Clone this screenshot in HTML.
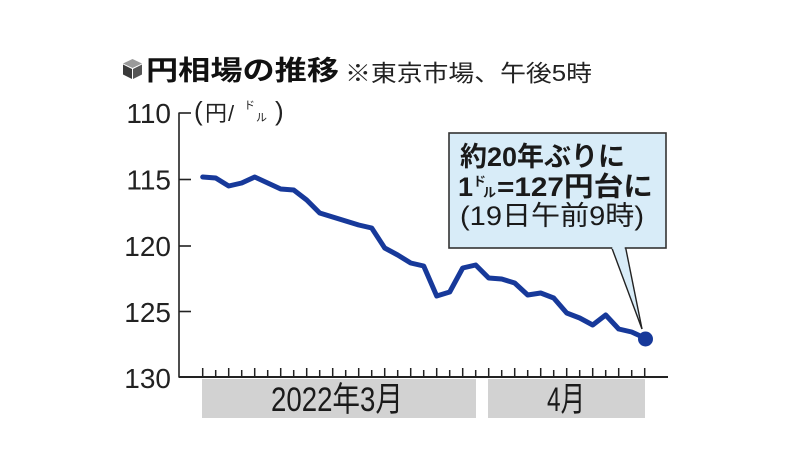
<!DOCTYPE html>
<html>
<head>
<meta charset="utf-8">
<style>
  html,body{margin:0;padding:0;background:#fff;}
  svg{display:block;}
  .jp{font-family:"Liberation Sans","Noto Sans CJK JP",sans-serif;}
</style>
</head>
<body>
<svg width="800" height="450" viewBox="0 0 800 450" xmlns="http://www.w3.org/2000/svg">
  <rect x="0" y="0" width="800" height="450" fill="#ffffff"/>

  <!-- title icon (cube) -->
  <g transform="translate(123,59)">
    <polygon points="9.5,0 19,4.5 9.5,9 0,4.5" fill="#9a9a9a"/>
    <polygon points="0,5.5 9,10 9,20 0,15.5" fill="#3a3a3a"/>
    <polygon points="10,10 19,5.5 19,15.5 10,20" fill="#555555"/>
  </g>
  <!-- title -->
  <text x="146" y="80" class="jp" font-size="27" font-weight="bold" fill="#111" textLength="193" lengthAdjust="spacingAndGlyphs">円相場の推移</text>
  <text x="345" y="81" class="jp" font-size="23" fill="#222" textLength="247" lengthAdjust="spacingAndGlyphs">※東京市場、午後5時</text>

  <!-- y-axis labels -->
  <g class="jp" font-size="28" fill="#222" text-anchor="end">
    <text x="171" y="123">110</text>
    <text x="171" y="189.5">115</text>
    <text x="171" y="256">120</text>
    <text x="171" y="322">125</text>
    <text x="171" y="388">130</text>
  </g>
  <!-- unit label (円/ドル) -->
  <g class="jp" fill="#222">
    <text x="194" y="120" font-size="26">(</text>
    <text x="205" y="121" font-size="22">円</text>
    <text x="228" y="121" font-size="22">/</text>
    <text x="244" y="109" font-size="11">ド</text>
    <text x="256" y="121" font-size="11">ル</text>
    <text x="275" y="120" font-size="26">)</text>
  </g>

  <!-- axes -->
  <line x1="179" y1="112.5" x2="179" y2="377" stroke="#222" stroke-width="1.6"/>
  <line x1="178.5" y1="377" x2="668" y2="377" stroke="#222" stroke-width="2"/>
  <g stroke="#222" stroke-width="1.6">
    <line x1="179" y1="113" x2="191" y2="113"/>
    <line x1="179" y1="179.5" x2="191" y2="179.5"/>
    <line x1="179" y1="246" x2="191" y2="246"/>
    <line x1="179" y1="311.5" x2="191" y2="311.5"/>
  </g>
  <!-- x ticks -->
  <g stroke="#222" stroke-width="1.5">
    <line x1="202.7" y1="368" x2="202.7" y2="377"/><line x1="215.7" y1="370" x2="215.7" y2="377"/>
    <line x1="228.7" y1="368" x2="228.7" y2="377"/><line x1="241.7" y1="370" x2="241.7" y2="377"/>
    <line x1="254.7" y1="368" x2="254.7" y2="377"/><line x1="267.7" y1="370" x2="267.7" y2="377"/>
    <line x1="280.7" y1="368" x2="280.7" y2="377"/><line x1="293.7" y1="370" x2="293.7" y2="377"/>
    <line x1="306.7" y1="368" x2="306.7" y2="377"/><line x1="319.7" y1="370" x2="319.7" y2="377"/>
    <line x1="332.7" y1="368" x2="332.7" y2="377"/><line x1="345.7" y1="370" x2="345.7" y2="377"/>
    <line x1="358.7" y1="368" x2="358.7" y2="377"/><line x1="371.7" y1="370" x2="371.7" y2="377"/>
    <line x1="384.7" y1="368" x2="384.7" y2="377"/><line x1="397.7" y1="370" x2="397.7" y2="377"/>
    <line x1="410.7" y1="368" x2="410.7" y2="377"/><line x1="423.7" y1="370" x2="423.7" y2="377"/>
    <line x1="436.7" y1="368" x2="436.7" y2="377"/><line x1="449.7" y1="370" x2="449.7" y2="377"/>
    <line x1="462.7" y1="368" x2="462.7" y2="377"/><line x1="475.7" y1="370" x2="475.7" y2="377"/>
    <line x1="488.7" y1="368" x2="488.7" y2="377"/><line x1="501.7" y1="370" x2="501.7" y2="377"/>
    <line x1="514.7" y1="368" x2="514.7" y2="377"/><line x1="527.7" y1="370" x2="527.7" y2="377"/>
    <line x1="540.7" y1="368" x2="540.7" y2="377"/><line x1="553.7" y1="370" x2="553.7" y2="377"/>
    <line x1="566.7" y1="368" x2="566.7" y2="377"/><line x1="579.7" y1="370" x2="579.7" y2="377"/>
    <line x1="592.7" y1="368" x2="592.7" y2="377"/><line x1="605.7" y1="370" x2="605.7" y2="377"/>
    <line x1="618.7" y1="368" x2="618.7" y2="377"/><line x1="631.7" y1="370" x2="631.7" y2="377"/>
    <line x1="644.7" y1="368" x2="644.7" y2="377"/>
  </g>

  <!-- month bars -->
  <rect x="202" y="379" width="274" height="39" fill="#d2d2d2"/>
  <rect x="488" y="379" width="157" height="39" fill="#d2d2d2"/>
  <text x="271" y="411" class="jp" font-size="34" fill="#1a1a1a" textLength="132" lengthAdjust="spacingAndGlyphs">2022年3月</text>
  <text x="547" y="411" class="jp" font-size="34" fill="#1a1a1a" textLength="38" lengthAdjust="spacingAndGlyphs">4月</text>

  <!-- callout tail -->
  <polygon points="611.5,246 625.5,246 642,329" fill="#d8ecf8"/>
  <line x1="611.5" y1="247" x2="642" y2="329" stroke="#222" stroke-width="1.4"/>
  <line x1="625.5" y1="247" x2="642" y2="329" stroke="#222" stroke-width="1.4"/>

  <!-- series -->
  <polyline fill="none" stroke="#17399a" stroke-width="5" stroke-linejoin="round" stroke-linecap="round"
    points="202.7,177 215.7,178 228.7,186 241.7,183 254.7,177 267.7,183 280.7,189 293.7,190 306.7,200 319.7,213 332.7,217 345.7,221 358.7,225 371.7,228 384.7,248 397.7,255 410.7,263 423.7,266 436.7,296 449.7,292 462.7,268 475.7,265 488.7,278 501.7,279 514.7,283 527.7,295 540.7,293 553.7,298 566.7,313 579.7,318 592.7,325 605.7,315 618.7,329 631.7,332 644.7,338"/>
  <circle cx="645.5" cy="339" r="7.5" fill="#17399a"/>

  <!-- callout box -->
  <rect x="449" y="133" width="217" height="115" fill="#d8ecf8" stroke="#333" stroke-width="1.6"/>
  <rect x="612.3" y="246" width="12.4" height="3" fill="#d8ecf8"/>
  <text x="460" y="166" class="jp" font-size="27" font-weight="bold" fill="#1a1a1a" textLength="165" lengthAdjust="spacingAndGlyphs">約20年ぶりに</text>
  <g class="jp" font-weight="bold" fill="#1a1a1a">
    <text x="458" y="196" font-size="27">1</text>
    <text x="473" y="186" font-size="13">ド</text>
    <text x="483" y="197" font-size="13">ル</text>
    <text x="497" y="196" font-size="27" textLength="156" lengthAdjust="spacingAndGlyphs">=127円台に</text>
  </g>
  <text x="460" y="225" class="jp" font-size="27" fill="#1a1a1a" textLength="184" lengthAdjust="spacingAndGlyphs">(19日午前9時)</text>
</svg>
</body>
</html>
